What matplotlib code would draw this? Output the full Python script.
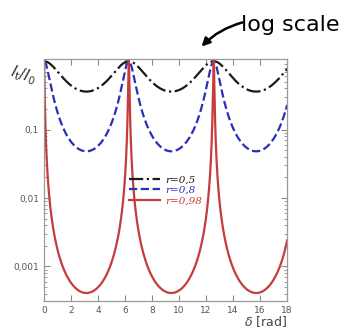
import numpy as np
import matplotlib
matplotlib.use("Agg")
import matplotlib.pyplot as plt
from matplotlib.ticker import FixedLocator, LogLocator, NullFormatter, FuncFormatter

# Amplitude reflection coefficients of the mirrors
r_values = [0.5, 0.8, 0.98]
r_labels = ["r=0,5", "r=0,8", "r=0,98"]
colors = ["#1a1a1a", "#2a2fb5", "#c63b3b"]
styles = ["-.", "--", "-"]

x_ticks = [0, 2, 4, 6, 8, 10, 12, 14, 16, 18]
y_ticks = [0.001, 0.01, 0.1]
y_tick_labels = ["0,001", "0,01", "0,1"]

delta = np.linspace(0, 18, 4000)

fig = plt.figure(figsize=(3.63, 3.35), dpi=100)
ax = fig.add_axes([0.121, 0.101, 0.670, 0.723])

for r, lab, c, ls in zip(r_values, r_labels, colors, styles):
    R = r ** 2
    F = 4 * R / (1 - R) ** 2
    trans = 1.0 / (1.0 + F * np.sin(delta / 2) ** 2)
    ax.plot(delta, trans, color=c, ls=ls, lw=1.6, label=lab)

ax.set_yscale("log")
ax.set_xlim(0, 18)
ax.set_ylim(3.1e-4, 1.08)

ax.xaxis.set_major_locator(FixedLocator(x_ticks))
ax.yaxis.set_major_locator(FixedLocator(y_ticks))
ax.yaxis.set_major_formatter(FuncFormatter(
    lambda v, p: dict(zip(y_ticks, y_tick_labels)).get(v, "")))
ax.yaxis.set_minor_locator(LogLocator(base=10, subs=np.arange(2, 10)))
ax.yaxis.set_minor_formatter(NullFormatter())

for s in ax.spines.values():
    s.set_color("#9a9a9a")
    s.set_linewidth(0.9)
ax.tick_params(which="both", direction="in", top=True, right=True,
               colors="#8a8a8a", labelcolor="#555555", labelsize=6.5)
ax.tick_params(which="major", length=4)
ax.tick_params(which="minor", length=2.5)

leg = ax.legend(loc="upper left", bbox_to_anchor=(0.31, 0.56), frameon=False,
                handlelength=3.0, handletextpad=0.5, labelspacing=0.15,
                prop={"family": "DejaVu Serif", "style": "italic", "size": 7.5})
for t, c in zip(leg.get_texts(), colors):
    t.set_color(c)

# Quotient label I_t / I_0, slanted downward
fig.text(0.022, 0.775, r"$I_{\rm t}/I_0$", fontsize=10.5, color="#333333",
         rotation=-18, va="center", ha="left")
fig.text(0.79, 0.04, r"$\delta$" + " [rad]", fontsize=9, color="#444444",
         ha="right", va="center")

# Hand-written style note about the y axis
fig.text(0.665, 0.925, "log scale", fontsize=16, color="black",
         family="DejaVu Sans", va="center")
ax.annotate("", xy=(0.55, 0.855), xycoords="figure fraction",
            xytext=(0.675, 0.935), textcoords="figure fraction",
            arrowprops=dict(arrowstyle="-|>", color="black", lw=1.8,
                            connectionstyle="arc3,rad=0.15",
                            mutation_scale=12))

fig.savefig("out.png", dpi=100)
